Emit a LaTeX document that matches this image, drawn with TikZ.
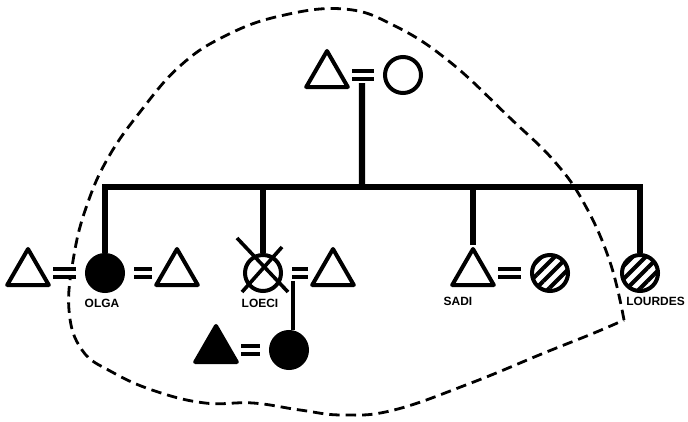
\documentclass[tikz,border=0pt]{standalone}
\usepackage{fontspec}
\setmainfont{Liberation Sans}
\usepackage{tikz}
\usetikzlibrary{shapes.geometric, calc, patterns.meta}

\begin{document}
\begin{tikzpicture}[x=0.025cm, y=-0.025cm,
          male/.style={regular polygon, regular polygon sides=3, draw,
                       line width=1mm, minimum size=1.2cm, inner sep=0pt,
                       line join=round},
          female/.style={circle, draw, line width=1mm, minimum size=0.9cm,
                         inner sep=0pt},
          dead/.style={fill=black},
          hatch/.style={pattern={Lines[angle=45, distance=2.3mm,
                                       line width=1mm]}},
          marr/.style={double, double distance=1.2mm, line width=0.95mm,
                       shorten <=2.3mm, shorten >=2.3mm},
          desc/.style={line width=1.6mm},
          kin/.style={line width=1mm},
          xline/.style={line width=0.9mm},
          lbl/.style={font=\fontsize{8.5}{9}\selectfont\bfseries, inner sep=0pt},
          border/.style={line width=0.7mm, dash pattern=on 2.6mm off 1.5mm}
        ]
        \useasboundingbox (0,0) rectangle (688,421);

        % Boundary
        \draw[border] plot[smooth, tension=0.7] coordinates {
              (624,320) (610,262) (585,205) (555,162) (510,118)
              (450,62) (395,26) (344,9) (280,16) (225,36) (180,66)
              (140,112) (108,158) (87,205) (74,255) (69,310) (82,350)
              (112,372) (155,391) (205,403) (253,403) (300,410) (343,415)
              (394,410) (471,383) (544,353) (594,333) (624,320)};

        % Parents
        \node[male]   (f0) at (327, 75) {};
        \node[female] (m0) at (403, 75) {};
        \coordinate (u0) at ($(f0)!0.46!(m0)$);
        \coordinate (sib) at (362,187);

        % Siblings and spouses
        \node[male]         (ols)  at (28, 273) {};
        \node[female, dead] (olga) at (105, 273) {};
        \node[male]         (olh)  at (177, 273) {};
        \node[female]       (loeci) at (263, 273) {};
        \node[male]         (lsp)  at (333, 273) {};
        \node[male]         (sadi) at (473, 273) {};
        \node[female, hatch] (ssp) at (550, 273) {};
        \node[female, hatch] (lourdes) at (640, 273) {};

        % Children of Loeci
        \node[male, dead]   (kidm) at (216, 350) {};
        \node[female, dead] (kidf) at (289, 350) {};
        \coordinate (u1) at ($(loeci)!0.43!(lsp)$);

        % Marriages
        \draw[marr] (f0) -- (m0);
        \draw[marr] (ols) -- (olga);
        \draw[marr] (olga) -- (olh);
        \draw[marr] (loeci) -- (lsp);
        \draw[marr] (sadi) -- (ssp);
        \draw[marr] (kidm) -- (kidf);

        % Descent
        \draw[desc, shorten <=2mm] (u0) -- (sib);
        \draw[desc] (olga.north) |- (sib) -| (lourdes.north);
        \draw[desc] (loeci.north) -- (loeci.north |- sib);
        \draw[desc] (sadi.north) -- (sadi.north |- sib);
        \draw[kin, shorten <=2mm] (u1) -- (u1 |- kidf.north);

        % Loeci crossed out
        \draw[xline] ($(loeci)+(-26,-35)$) -- ($(loeci)+(25,19)$);
        \draw[xline] ($(loeci)+(19,-26)$) -- ($(loeci)+(-21,19)$);

        % Names
        \node[lbl] (lolga) at (102, 303) {OLGA};
        \node[lbl] (lloeci) at (260, 303) {LOECI};
        \node[lbl] (lsadi) at (458, 301) {SADI};
        \node[lbl, anchor=west] (llour) at (626, 301) {LOURDES};
      \end{tikzpicture}
\end{document}
